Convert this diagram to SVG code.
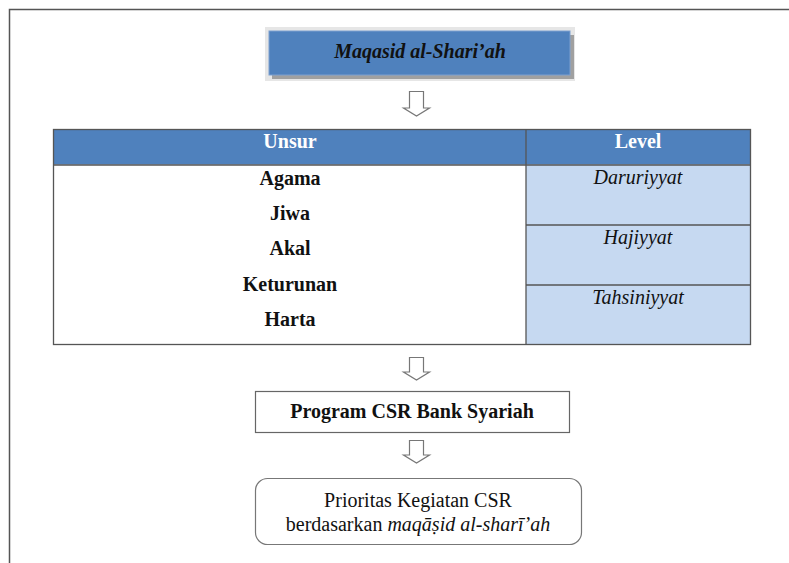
<svg xmlns="http://www.w3.org/2000/svg" width="789" height="563" viewBox="0 0 789 563">
<defs>
<style>
text{font-family:"Liberation Serif","Times New Roman",serif;font-size:20px;fill:#111;text-anchor:middle}
.b{font-weight:bold}
.i{font-style:italic}
.w{fill:#fff}
.grid{stroke:#555;stroke-width:1.3;fill:none}
.arrow{fill:#fff;stroke:#777;stroke-width:1.2;stroke-linejoin:miter}
</style>
</defs>
<rect width="789" height="563" fill="#fff"/>
<rect x="9.5" y="9.5" width="800" height="600" fill="none" stroke="#555" stroke-width="1.5"/>

<g id="maqasid">
<rect x="265" y="27" width="310" height="54" fill="#e6e6e6"/>
<rect x="272" y="35" width="302" height="44" fill="#a0a0a0"/>
<rect x="269" y="31" width="301" height="44" fill="#4F81BD" stroke="#7c9fcf" stroke-width="1"/>
<text class="b i" x="420" y="58">Maqasid al-Shari’ah</text>
</g>

<g id="table">
<rect x="53.5" y="129.5" width="697" height="35" fill="#4F81BD"/>
<rect x="526" y="165" width="224.5" height="179" fill="#C6D9F1"/>
<rect x="53.5" y="129.5" width="697" height="215" class="grid"/>
<line x1="53.5" y1="165" x2="750.5" y2="165" class="grid"/>
<line x1="526" y1="129.5" x2="526" y2="344.5" class="grid"/>
<line x1="526" y1="225" x2="750.5" y2="225" class="grid"/>
<line x1="526" y1="285" x2="750.5" y2="285" class="grid"/>
<text class="b w" x="290" y="148">Unsur</text>
<text class="b w" x="638" y="148">Level</text>
<text class="b" x="290" y="185">Agama</text>
<text class="b" x="290" y="220">Jiwa</text>
<text class="b" x="290" y="255">Akal</text>
<text class="b" x="290" y="291">Keturunan</text>
<text class="b" x="290" y="326">Harta</text>
<text class="i" x="638" y="184">Daruriyyat</text>
<text class="i" x="638" y="244">Hajiyyat</text>
<text class="i" x="638" y="304">Tahsiniyyat</text>
</g>

<g id="program">
<rect x="255.5" y="391.5" width="314" height="41" fill="#fff" stroke="#666" stroke-width="1.2"/>
<text class="b" x="412" y="418">Program CSR Bank Syariah</text>
</g>

<g id="prioritas">
<rect x="255.5" y="478.5" width="326" height="66" rx="12" ry="12" fill="#fff" stroke="#777" stroke-width="1.2"/>
<text x="418" y="507">Prioritas Kegiatan CSR</text>
<text x="418" y="531">berdasarkan <tspan class="i">maqāṣid al-sharī’ah</tspan></text>
</g>

<g id="connectors">
<path class="arrow" d="M409.5,91.5 V108 H403.5 L416.5,116 L429.5,108 H423.5 V91.5 Z"/>
<path class="arrow" d="M409.5,357.5 V372 H403.5 L416.5,380 L429.5,372 H423.5 V357.5 Z"/>
<path class="arrow" d="M409.5,440.5 V455 H403.5 L416.5,463 L429.5,455 H423.5 V440.5 Z"/>
</g>
</svg>
